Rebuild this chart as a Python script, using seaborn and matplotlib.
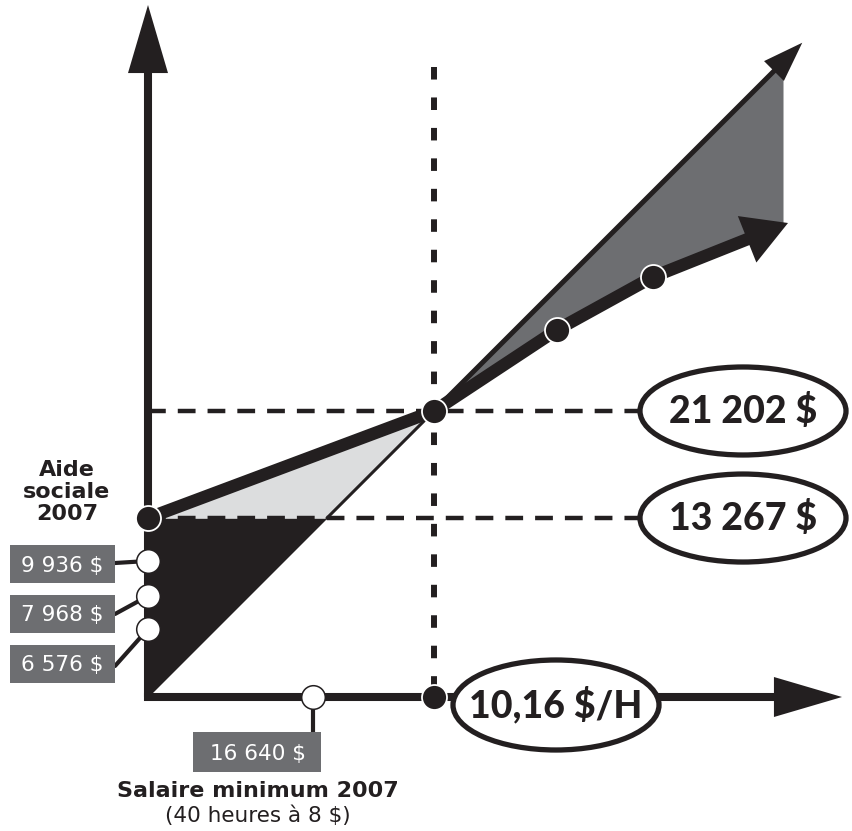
import numpy as np
import matplotlib
matplotlib.use("Agg")
import matplotlib.pyplot as plt
from matplotlib.patches import Ellipse, Rectangle
import seaborn as sns

# ---------------- data (dollars, schematic scale) ----------------
welfare_income = 13267          # Aide sociale 2007 (disposable income at zero work)
breakeven_income = 21202        # break-even point (10,16 $/H)
disposable_x = [0, 21202, 30297, 37458]
disposable_y = [13267, 21202, 27206, 31157]
disposable_tip = [47443, 35138]
gross_tip = 48500
axis_end_x = 51446
axis_end_y = 51298
fill_right = 47073
min_wage_pos = 12209
welfare_marker_y = [10082, 7487, 5041]
welfare_labels = ["9 936 $", "7 968 $", "6 576 $"]
min_wage_label = "16 640 $"
threshold_labels = ["21 202 $", "13 267 $"]
threshold_values = [21202, 13267]
wage_label = "10,16 $/H"

# ---------------- style ----------------
sns.set_style("white")
plt.rcParams["font.family"] = ["DejaVu Sans"]
INK = "#231f20"
DARK = "#6d6e71"
LIGHT = "#dcddde"
W, H = 853, 831
S = 74.13  # dollars per pixel


def px(x, y):
    """layout helper: pixel position (from top-left) -> data coords"""
    return ((x - 148) * S, (697 - y) * S)


fig = plt.figure(figsize=(W / 100, H / 100), dpi=100)
ax = fig.add_axes([0, 0, 1, 1])
ax.set_xlim(-148 * S, (W - 148) * S)
ax.set_ylim(-(H - 697) * S, 697 * S)
ax.set_axis_off()


def head(tip, frm, length_px, half_px, z=5):
    L = length_px / (10 * 100 / 72)
    Wd = half_px / (10 * 100 / 72)
    ax.annotate("", xy=tip, xytext=frm,
                arrowprops=dict(arrowstyle=f"-|>,head_length={L:.2f},head_width={Wd:.2f}",
                                lw=0, color=INK, shrinkA=0, shrinkB=0, mutation_scale=10),
                zorder=z)
    t = np.array(tip, float)
    f = np.array(frm, float)
    u = (t - f) / np.hypot(*(t - f))
    return t - u * length_px * 0.8 * S


# ---------------- fills ----------------
xb = np.array([0, welfare_income])
ax.fill_between(xb, xb, welfare_income, color=INK, lw=0, zorder=1)
xl = np.array([0, welfare_income, breakeven_income])
ax.fill_between(xl, np.maximum(xl, welfare_income),
                np.interp(xl, disposable_x, disposable_y), color=LIGHT, lw=0, zorder=1)
cx = np.array(disposable_x[1:] + [disposable_tip[0]])
cy = np.array(disposable_y[1:] + [disposable_tip[1]])
xg = np.array([x for x in cx if x <= fill_right] + [fill_right])
ax.fill_between(xg, xg, np.interp(xg, cx, cy), color=DARK, lw=0, zorder=1)

# ---------------- dashed guides ----------------
for v in threshold_values:
    ax.plot([0, 44000], [v, v], color=INK, lw=3.2, ls=(0, (4, 2.7)),
            dash_capstyle="butt", zorder=2)
ax.plot([breakeven_income, breakeven_income], [46700, 0], color=INK, lw=4.3,
        ls=(0, (2.1, 3)), dash_capstyle="butt", zorder=2)

# ---------------- axes with arrows ----------------
by = head((0, axis_end_y), (0, 0), 68, 20)
ax.plot([0, 0], [0, by[1]], color=INK, lw=5.8, solid_capstyle="butt", zorder=3)
bx = head((axis_end_x, 0), (0, 0), 68, 20)
ax.plot([0, bx[0]], [0, 0], color=INK, lw=5.8, solid_capstyle="projecting", zorder=3)

# ---------------- 45° line (gross income) ----------------
ax.plot([welfare_income, breakeven_income], [welfare_income, breakeven_income],
        color=INK, lw=2.2, zorder=3)
bg = head((gross_tip, gross_tip), (breakeven_income, breakeven_income), 40, 14)
ax.plot([breakeven_income, bg[0]], [breakeven_income, bg[1]], color=INK, lw=3.6,
        solid_capstyle="butt", zorder=3)

# ---------------- disposable income curve ----------------
sns.lineplot(x=disposable_x, y=disposable_y, ax=ax, color=INK, lw=9, sort=False,
             estimator=None, zorder=4)
bd = head(tuple(disposable_tip), (disposable_x[-1], disposable_y[-1]), 44, 25)
ax.plot([disposable_x[-1], bd[0]], [disposable_y[-1], bd[1]], color=INK, lw=9,
        solid_capstyle="butt", zorder=4)

# ---------------- markers ----------------
sns.scatterplot(x=disposable_x + [breakeven_income], y=disposable_y + [0], ax=ax,
                s=18 ** 2, color=INK, edgecolor="white", linewidth=1.3, zorder=6)

conn_from = [(115, 563), (115, 614), (115, 666)]
for (fx, fy), wy in zip(conn_from, welfare_marker_y):
    p = px(fx, fy)
    ax.plot([p[0], 0], [p[1], wy], color=INK, lw=3, zorder=5)
p = px(313, 733)
ax.plot([min_wage_pos, min_wage_pos], [0, p[1]], color=INK, lw=3, zorder=5)

sns.scatterplot(x=[0, 0, 0, min_wage_pos], y=welfare_marker_y + [0], ax=ax,
                s=17 ** 2, color="white", edgecolor=INK, linewidth=1.1, zorder=6)

# ---------------- gray label boxes ----------------
box_centers = [564, 613.5, 663.5]
for lab, cy_ in zip(welfare_labels, box_centers):
    x0, y0 = px(10, cy_ + 19)
    ax.add_patch(Rectangle((x0, y0), 105 * S, 38 * S, color=DARK, lw=0, zorder=6))
    tx, ty = px(62.5, cy_)
    ax.text(tx, ty, lab, color="white", fontsize=15.5, ha="center",
            va="center_baseline", zorder=7)
x0, y0 = px(193, 772)
ax.add_patch(Rectangle((x0, y0), 128 * S, 40 * S, color=DARK, lw=0, zorder=6))
tx, ty = px(258, 752)
ax.text(tx, ty, min_wage_label, color="white", fontsize=15.5, ha="center",
        va="center_baseline", zorder=7)

# ---------------- texts ----------------
tx, ty = px(67, 492)
ax.text(tx, ty, "Aide\nsociale\n2007", color=INK, fontsize=16, fontweight="bold",
        ha="center", va="center", linespacing=1.12, zorder=7)
tx, ty = px(258, 791)
ax.text(tx, ty, "Salaire minimum 2007", color=INK, fontsize=16, fontweight="bold",
        ha="center", va="center", zorder=7)
tx, ty = px(258, 816)
ax.text(tx, ty, "(40 heures à 8 $)", color=INK, fontsize=15.5, ha="center",
        va="center", zorder=7)

# ---------------- ellipses ----------------
ell_x = px(743, 0)[0]
for lab, v in zip(threshold_labels, threshold_values):
    ax.add_patch(Ellipse((ell_x, v), 206 * S, 88 * S, fc="white", ec=INK, lw=3.8,
                         zorder=7))
    ax.text(ell_x, v, lab, fontsize=27, fontweight="black", family=["Lato", "DejaVu Sans"],
            color=INK, ha="center", va="center", zorder=8)
ex, ey = px(556, 705)
ax.add_patch(Ellipse((ex, ey), 206 * S, 90 * S, fc="white", ec=INK, lw=3.8, zorder=7))
ax.text(ex, ey, wage_label, fontsize=27, fontweight="black", family=["Lato", "DejaVu Sans"],
        color=INK, ha="center", va="center", zorder=8)

fig.savefig("out.png", dpi=100)
